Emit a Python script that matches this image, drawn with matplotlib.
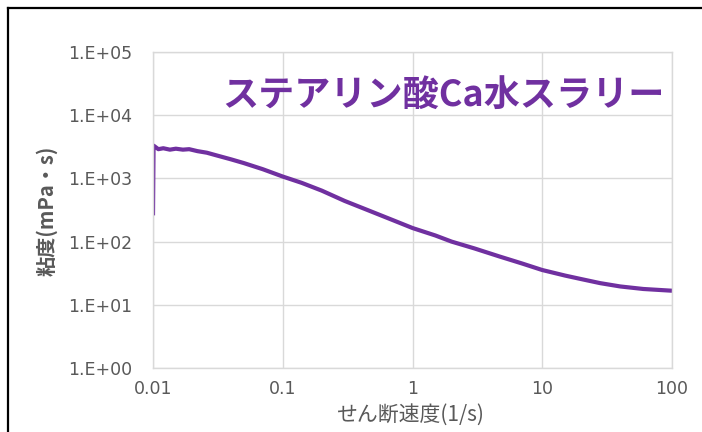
import matplotlib
matplotlib.use("Agg")
import matplotlib.pyplot as plt
from matplotlib.lines import Line2D
from matplotlib import font_manager

plt.rcParams['font.family'] = ['Noto Sans CJK JP', 'DejaVu Sans']

shear_rate = [0.0100, 0.0101, 0.0110, 0.0120, 0.0135, 0.0150, 0.0170, 0.0190,
              0.0220, 0.0260, 0.0300, 0.0400, 0.0500, 0.0700, 0.1000, 0.1400,
              0.2000, 0.3000, 0.4500, 0.7000, 1.0000, 1.5000, 2.0000, 3.0000,
              4.7000, 7.0000, 10.000, 15.000, 20.000, 28.000, 40.000, 60.000,
              100.00]
viscosity = [260, 3300, 2900, 3000, 2850, 2950, 2850, 2900,
             2700, 2550, 2350, 2000, 1750, 1400, 1070, 850,
             640, 440, 316, 220, 164, 125, 100, 78,
             58, 45, 35.5, 29, 25.5, 22, 19.5, 17.8,
             16.7]

x_ticks = [0.01, 0.1, 1, 10, 100]
x_ticklabels = ['0.01', '0.1', '1', '10', '100']
y_ticks = [1, 10, 100, 1000, 10000, 100000]
y_ticklabels = ['1.E+00', '1.E+01', '1.E+02', '1.E+03', '1.E+04', '1.E+05']

title_text = 'ステアリン酸Ca水スラリー'
x_label = 'せん断速度(1/s)'
y_label = '粘度(mPa・s)'

names = {f.name for f in font_manager.fontManager.ttflist}
if 'Liberation Sans Narrow' in names:
    tick_family = ['Liberation Sans Narrow', 'DejaVu Sans']
    tick_size = 16
else:
    tick_family = ['DejaVu Sans']
    tick_size = 12.5

W, H = 702, 432
fig = plt.figure(figsize=(W / 100, H / 100), dpi=100)
ax = fig.add_axes([153 / W, 1 - 368 / H, (672 - 153) / W, (368 - 52) / H])

purple = '#7030A0'
gray = '#595959'
grid_c = '#d9d9d9'

ax.plot(shear_rate, viscosity, color=purple, lw=3.0, solid_capstyle='butt')
ax.set_xscale('log')
ax.set_yscale('log')
ax.set_xlim(0.01, 100)
ax.set_ylim(1, 100000)
ax.set_xticks(x_ticks)
ax.set_xticklabels(x_ticklabels)
ax.set_yticks(y_ticks)
ax.set_yticklabels(y_ticklabels)
ax.minorticks_off()
ax.tick_params(axis='both', length=0, colors=gray, labelsize=tick_size)
ax.tick_params(axis='y', pad=15)
ax.tick_params(axis='x', pad=9)
for lbl in ax.get_xticklabels() + ax.get_yticklabels():
    lbl.set_fontfamily(tick_family)
ax.grid(True, color=grid_c, lw=1.0)
ax.set_axisbelow(True)
for s in ax.spines.values():
    s.set_color(grid_c)
    s.set_linewidth(1.0)

fig.text(443 / W, 1 - 95 / H, title_text, color=purple, fontsize=26,
         fontweight='bold', ha='center', va='center')
fig.text(410 / W, 1 - 415 / H, x_label, color=gray, fontsize=15,
         ha='center', va='center')
fig.text(47 / W, 1 - 211 / H, y_label, color=gray, fontsize=14.5,
         fontweight='bold', ha='center', va='center', rotation=90)

fig.add_artist(Line2D([8 / W, 1.0], [1 - 8 / H, 1 - 8 / H], color='black', lw=1.6,
                      transform=fig.transFigure))
fig.add_artist(Line2D([8 / W, 8 / W], [0, 1 - 8 / H], color='black', lw=1.6,
                      transform=fig.transFigure))

fig.savefig('out.png', dpi=100, facecolor='white')
